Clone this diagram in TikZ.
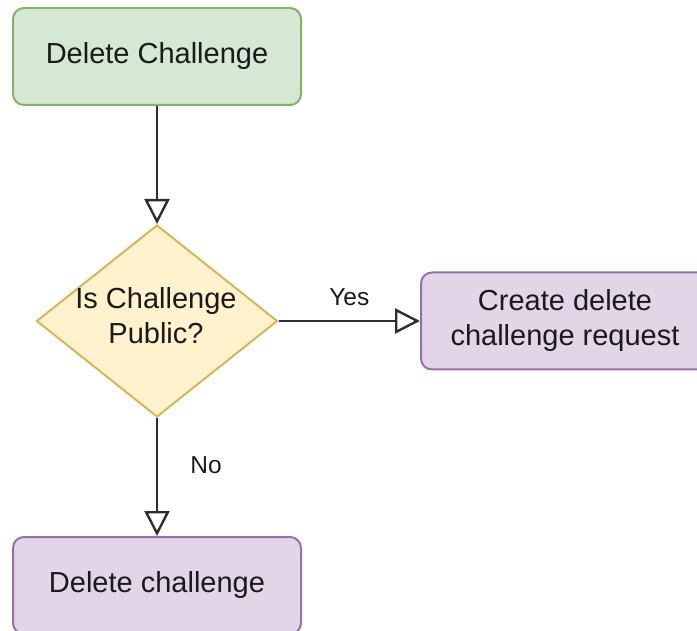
\documentclass[tikz,border=0pt]{standalone}
\usepackage{fontspec}
\setmainfont{Liberation Sans}
\usetikzlibrary{shapes.geometric,arrows.meta}
\definecolor{greenfill}{HTML}{D5E8D4}
\definecolor{greenline}{HTML}{82B366}
\definecolor{yellowfill}{HTML}{FFF2CC}
\definecolor{yellowline}{HTML}{D6B656}
\definecolor{purplefill}{HTML}{E1D5E7}
\definecolor{purpleline}{HTML}{9673A6}
\definecolor{ink}{HTML}{1A1A1A}
\definecolor{wire}{HTML}{2E2E2E}
\tikzset{
  box/.style={rectangle, rounded corners=11pt, line width=2pt,
    minimum width=288pt, minimum height=97pt, inner sep=0pt,
    text=ink, align=center,
    font=\fontsize{29}{35}\selectfont},
  startbox/.style={box, fill=greenfill, draw=greenline},
  actbox/.style={box, fill=purplefill, draw=purpleline},
  decision/.style={diamond, fill=yellowfill, draw=yellowline, line width=2pt,
    minimum width=241pt, minimum height=192pt, inner sep=0pt, aspect=1.255},
  flow/.style={draw=wire, line width=2.8pt,
    -{Triangle[open, length=25pt, width=25pt, line width=2.4pt]}},
  lbl/.style={text=ink, font=\fontsize{24.5}{28}\selectfont, inner sep=0pt},
}
\begin{document}
\begin{tikzpicture}[x=1pt, y=-1pt]
  \useasboundingbox (0,0) rectangle (697,631);
  \clip (0,0) rectangle (697,631);
  \fill[white] (0,0) rectangle (697,631);

  \node[startbox] (start) at (157,56.5) {Delete Challenge};
  \node[decision] (check) at (157,321) {};
  \node[text=ink, align=center, font=\fontsize{29}{35}\selectfont, inner sep=0pt]
    (checktext) at (156,316) {Is Challenge\\Public?};
  \node[actbox] (request) at (565,321) {Create delete\\challenge request};
  \node[actbox] (remove) at (157,585.5) {Delete challenge};

  \draw[flow] (start.south) -- (check.north);
  \draw[flow] (check.east) -- (request.west)
    node[lbl, pos=0.5, above=14pt] (yes) {Yes};
  \draw[flow] (check.south) -- (remove.north)
    node[lbl, pos=0.4, right=32pt] (no) {No};
\end{tikzpicture}
\end{document}
